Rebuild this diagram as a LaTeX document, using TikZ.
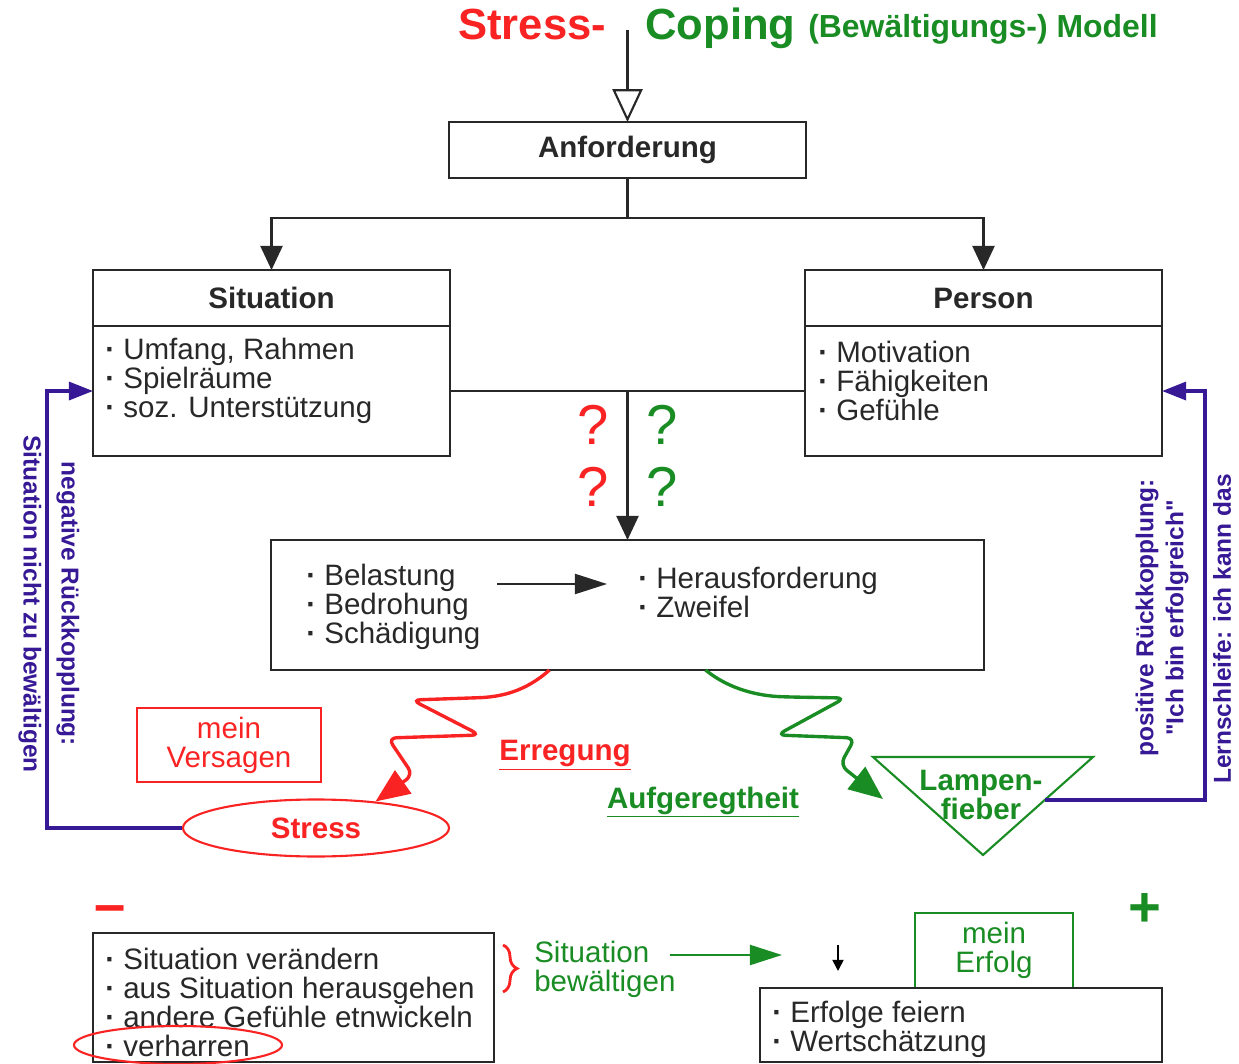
\documentclass[tikz,border=0pt]{standalone}
\usepackage{fontspec}
\setmainfont{Liberation Sans}
\usepackage{tikz}
\usetikzlibrary{arrows.meta,positioning,shapes.geometric,decorations.pathreplacing}
\usepackage{xcolor}
\definecolor{stressred}{RGB}{250,35,35}
\definecolor{copegreen}{RGB}{25,140,35}
\definecolor{loopblue}{RGB}{55,25,150}
\definecolor{boxgray}{RGB}{40,40,40}
\newcommand{\fsbody}{\fontsize{21}{20.6}\selectfont}
\newcommand{\fstitle}{\fontsize{31}{31}\selectfont}
\newcommand{\fssub}{\fontsize{22.7}{24}\selectfont}
\newcommand{\fsquest}{\fontsize{40}{40}\selectfont}
\newcommand{\fsloop}{\fontsize{17.4}{27}\selectfont}
\newcommand{\fsloopR}{\fontsize{17.4}{21.3}\selectfont}
\newcommand{\itm}{\textbf{·}\ }

\begin{document}
\begin{tikzpicture}[x=0.025cm, y=-0.025cm,
    plainbox/.style={draw=boxgray, line width=1.5pt, outer sep=0pt, inner sep=0pt, align=center, font=\fsbody, text=boxgray},
    headbox/.style={plainbox, font=\fsbody\bfseries},
    listtext/.style={anchor=west, align=left, inner sep=0pt, font=\fsbody, text=boxgray},
    blackarrow/.style={draw=boxgray, line width=1.5pt, -{Triangle[length=0.6cm,width=0.55cm]}},
    fbline/.style={draw=loopblue, line width=2.4pt, -{Triangle[length=0.6cm,width=0.45cm]}},
    looptext/.style={text=loopblue, align=center, inner sep=0pt},
    wavered/.style={draw=stressred, line width=2.4pt, rounded corners=6pt, -{Triangle[length=0.85cm,width=0.7cm]}},
    wavegreen/.style={draw=copegreen, line width=2.4pt, rounded corners=6pt, -{Triangle[length=0.85cm,width=0.7cm]}}]
    \useasboundingbox (0,0) rectangle (1239,1064);

    % Title
    \node[anchor=base west, inner sep=0pt, text=stressred, font=\fstitle\bfseries] (titstress) at (458,40) {Stress-};
    \node[anchor=base west, inner sep=0pt, text=copegreen, font=\fstitle\bfseries] (titcoping) at (645,40) {Coping};
    \node[anchor=base west, inner sep=0pt, text=copegreen, font=\fssub\bfseries] (titsub) at (808,38) {(Bewältigungs-) Modell};

    % Demand
    \node[headbox, minimum width=8.925cm, minimum height=1.4cm] (anf) at (627.5,150) {Anforderung};
    \coordinate (titletop) at (627.5,30);
    \draw[draw=boxgray, line width=1.5pt, -{Triangle[open, length=0.82cm, width=0.75cm, fill=white]}] (titletop) -- (anf.north);

    % Situation and person
    \node[headbox, minimum width=8.925cm, minimum height=1.4cm] (sithead) at (271.5,298) {Situation};
    \node[plainbox, minimum width=8.925cm, minimum height=3.25cm, below=0pt of sithead] (sitbody) {};
    \node[listtext] (sitlist) at (105,381) {\itm Umfang, Rahmen\\ \itm Spielräume\\ \itm soz. Unterstützung};
    \node[headbox, minimum width=8.925cm, minimum height=1.4cm] (perhead) at (983.5,298) {Person};
    \node[plainbox, minimum width=8.925cm, minimum height=3.25cm, below=0pt of perhead] (perbody) {};
    \node[listtext] (perlist) at (818,381) {\itm Motivation\\ \itm Fähigkeiten\\ \itm Gefühle};

    \draw[draw=boxgray, line width=1.5pt] (anf.south) -- ++(0,40) coordinate (split);
    \draw[blackarrow] (split) -| (sithead.north);
    \draw[blackarrow] (split) -| (perhead.north);

    % Appraisal
    \node[plainbox, minimum width=17.825cm, minimum height=3.25cm] (mid) at (627.5,605) {};
    \node[listtext] (burden) at (306,607) {\itm Belastung\\ \itm Bedrohung\\ \itm Schädigung};
    \node[listtext] (challenge) at (638,592) {\itm Herausforderung\\ \itm Zweifel};
    \coordinate (fromload) at (497,584);
    \coordinate (tochall) at (607,584);
    \draw[blackarrow, -{Triangle[length=0.8cm,width=0.5cm]}] (fromload) -- (tochall);

    \draw[draw=boxgray, line width=1.5pt] (sitbody.east) -- (perbody.west);
    \draw[blackarrow] (anf.south |- sitbody.east) -- (mid.north);

    \node[font=\fsquest, text=stressred, inner sep=0pt] (qred1) at (593,425) {?};
    \node[font=\fsquest, text=stressred, inner sep=0pt] (qred2) at (593,487) {?};
    \node[font=\fsquest, text=copegreen, inner sep=0pt] (qgreen1) at (662,425) {?};
    \node[font=\fsquest, text=copegreen, inner sep=0pt] (qgreen2) at (662,487) {?};

    % Stress side
    \node[plainbox, draw=stressred, text=stressred, minimum width=4.6cm, minimum height=1.85cm] (versagen) at (229,745) {mein\\Versagen};
    \node[ellipse, draw=stressred, line width=1.5pt, text=stressred, font=\fsbody\bfseries, minimum width=6.65cm, minimum height=1.425cm, inner sep=0pt] (stress) at (316,828) {Stress};
    \node[font=\fsbody\bfseries, text=stressred, inner sep=0pt] (erreg) at (565,755) {\underline{Erregung}};
    \draw[wavered] ([xshift=-1.95cm]mid.south) .. controls (525,692) and (500,697) .. (470,698) -- (412,700) -- (480,735) -- (388,738) -- (413,775) -- (stress.24);

    % Coping side
    \draw[draw=copegreen, line width=1.5pt] (873,757) -- (1093,757) -- (983,855) -- cycle;
    \node[font=\fsbody\bfseries, text=copegreen, align=center, inner sep=0pt] (lampen) at (981,795) {Lampen-\\fieber};
    \coordinate (lampentip) at (883,799);
    \coordinate (lampenR) at (1045,800);
    \node[font=\fsbody\bfseries, text=copegreen, inner sep=0pt] (aufger) at (703,802) {\underline{Aufgeregtheit}};
    \draw[wavegreen] ([xshift=1.95cm]mid.south) .. controls (730,690) and (760,696) .. (790,697) -- (845,698) -- (777,735) -- (855,738) -- (840,765) -- (lampentip);

    % Feedback loops
    \draw[fbline] (stress.west) -- ++(-135,0) |- (sitbody.west);
    \draw[fbline] (lampenR) -- ++(160,0) |- (perbody.east);
    \node[looptext, rotate=-90, font=\fsloop\bfseries] (negloop) at (49,604) {negative Rückkopplung:\\Situation nicht zu bewältigen};
    \node[looptext, rotate=90, font=\fsloopR\bfseries] (posloop) at (1162,618) {positive Rückkopplung:\\\textquotedbl Ich bin erfolgreich\textquotedbl};
    \node[looptext, rotate=90, font=\fsloopR\bfseries] (learnloop) at (1222,629) {Lernschleife: ich kann das};

    % Coping strategies
    \node[font=\fsquest\bfseries, text=stressred, inner sep=0pt] (minus) at (110,915) {–};
    \node[plainbox, minimum width=10.025cm, minimum height=3.225cm] (copebox) at (293.5,997.5) {};
    \node[listtext] (copelist) at (105,1002) {\itm Situation verändern\\ \itm aus Situation herausgehen\\ \itm andere Gefühle etnwickeln\\ \itm verharren};
    \node[ellipse, draw=stressred, line width=1.5pt, minimum width=5.2cm, minimum height=0.95cm, inner sep=0pt] (stuck) at (178,1045) {};
    \draw[draw=stressred, line width=2pt, decorate, decoration={brace, amplitude=10pt}] (503,945) -- (503,992);
    \node[anchor=west, align=left, inner sep=0pt, font=\fsbody, text=copegreen] (sitbew) at (534,969.5) {Situation\\bewältigen};
    \coordinate (gstart) at (670,955);
    \coordinate (gend) at (782,955);
    \draw[draw=copegreen, line width=1.5pt, -{Triangle[length=0.8cm,width=0.5cm]}] (gstart) -- (gend);
    \coordinate (dtop) at (838,945);
    \coordinate (dbot) at (838,971);
    \draw[draw=black, line width=1.2pt, -{Triangle[length=0.28cm,width=0.28cm]}] (dtop) -- (dbot);

    % Success
    \node[font=\fsquest\bfseries, text=copegreen, inner sep=0pt] (plus) at (1145,910) {+};
    \node[plainbox, draw=copegreen, text=copegreen, minimum width=3.95cm, minimum height=1.875cm] (erfolg) at (994,950.5) {mein\\Erfolg};
    \node[plainbox, minimum width=10.05cm, minimum height=1.85cm] (winbox) at (961,1025) {};
    \node[listtext] (winlist) at (772,1029) {\itm Erfolge feiern\\ \itm Wertschätzung};
\end{tikzpicture}
\end{document}
